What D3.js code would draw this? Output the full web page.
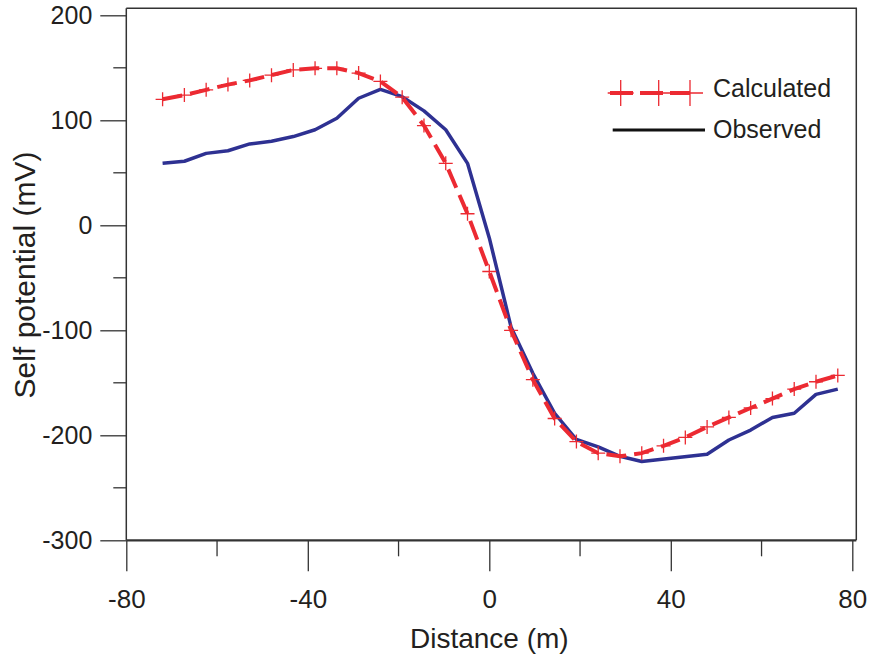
<!DOCTYPE html>
<html lang="en">
<head>
<meta charset="UTF-8">
<title>Self potential profile</title>
<script src="https://cdn.jsdelivr.net/npm/d3@7"></script>
<style>
  body { margin: 0; background: #fff; }
  text { font-family: "Liberation Sans", Arial, sans-serif; fill: #231f20; }
</style>
</head>
<body>
<script>

// distances (m)
var calcX = [-72, -67.2, -62.4, -57.6, -52.8, -48, -43.2, -38.4, -33.6, -28.8, -24, -19.2, -14.4, -9.6, -4.8, 0,
             4.8, 9.6, 14.4, 19.2, 24, 28.8, 33.6, 38.4, 43.2, 48, 52.8, 57.6, 62.4, 67.2, 72, 76.8];
var calcY = [120, 124, 129, 134, 138, 143, 148, 149.5, 149.5, 145, 137, 122, 95, 59, 11, -44,
             -100, -147, -184, -206, -217, -220, -217, -210, -202, -192, -183, -174, -165, -156, -149, -143];

var obsX = [-72, -67.2, -62.4, -57.6, -52.8, -48, -43.2, -38.4, -33.6, -28.8, -24, -19.2, -14.4, -9.6, -4.8, 0,
            4.8, 9.6, 14.4, 19.2, 24, 28.8, 33.6, 48, 52.8, 57.6, 62.4, 67.2, 72, 76.8];
var obsY = [59, 61, 68.5, 71, 77.5, 80, 84.5, 91, 102, 121, 129.5, 122.5, 109, 91, 59, -12,
            -97, -141, -179, -204, -211, -220, -225, -218, -204.5, -195, -183, -179, -161, -156];

var xTicks = [-80, -40, 0, 40, 80];
var xMinor = [-60, -20, 20, 60];
var yTicks = [200, 100, 0, -100, -200, -300];
var yMinor = [150, 50, -50, -150, -250];

var legendNames = ["Calculated", "Observed"];

var red = "#ec2a32", blue = "#2e3192", axisCol = "#333";

var W = 869, H = 658;
var svg = d3.select("body").append("svg").attr("width", W).attr("height", H);

var x = d3.scaleLinear().domain([-80, 80]).range([126.3, 852.3]);
var y = d3.scaleLinear().domain([-300, 200]).range([540.3, 15.3]);
var plain = function(d) { return String(d); };   // keep "-" hyphen like the original

// frame (top/right go a bit past the last ticks)
var fx0 = x(-80), fx1 = x(80) + 4, fy0 = y(200) - 7, fy1 = y(-300);
svg.append("path")
  .attr("d", "M" + fx0 + "," + fy0 + "H" + fx1 + "V" + fy1)
  .attr("fill", "none").attr("stroke", axisCol).attr("stroke-width", 1.5);

// axes
var ax = svg.append("g").attr("transform", "translate(0," + y(-300) + ")")
  .call(d3.axisBottom(x).tickValues(xTicks).tickFormat(plain).tickSize(31).tickPadding(18).tickSizeOuter(0));
ax.select(".domain").attr("stroke", axisCol).attr("stroke-width", 2.2)
  .attr("d", "M" + fx0 + ",0H" + fx1);
ax.selectAll(".tick line").attr("stroke", axisCol).attr("stroke-width", 1.3);
ax.selectAll(".tick text").attr("font-size", 26).attr("fill", "#231f20");
ax.selectAll(".minor").data(xMinor).enter().append("line")
  .attr("x1", x).attr("x2", x).attr("y1", 0).attr("y2", 16)
  .attr("stroke", axisCol).attr("stroke-width", 1.3);

var ay = svg.append("g").attr("transform", "translate(" + x(-80) + ",0)")
  .call(d3.axisLeft(y).tickValues(yTicks).tickFormat(plain).tickSize(26).tickPadding(8).tickSizeOuter(0));
ay.select(".domain").attr("stroke", axisCol).attr("stroke-width", 1.5)
  .attr("d", "M0," + fy0 + "V" + fy1);
ay.selectAll(".tick line").attr("stroke", axisCol).attr("stroke-width", 1.3);
ay.selectAll(".tick text").attr("font-size", 25).attr("fill", "#231f20");
ay.selectAll(".minor").data(yMinor).enter().append("line")
  .attr("x1", -13).attr("x2", 0).attr("y1", y).attr("y2", y)
  .attr("stroke", axisCol).attr("stroke-width", 1.3);

// axis titles
svg.append("text").attr("x", x(0)).attr("y", 648).attr("text-anchor", "middle")
  .attr("font-size", 28).text("Distance (m)");
svg.append("text").attr("transform", "translate(35,275) rotate(-90)").attr("text-anchor", "middle")
  .attr("font-size", 30).text("Self potential (mV)");

// observed line
var obs = obsX.map(function(d, i) { return [d, obsY[i]]; });
var calc = calcX.map(function(d, i) { return [d, calcY[i]]; });
var line = d3.line().x(function(d) { return x(d[0]); }).y(function(d) { return y(d[1]); });

svg.append("path").datum(obs).attr("d", line)
  .attr("fill", "none").attr("stroke", blue).attr("stroke-width", 3.5).attr("stroke-linejoin", "round");

svg.append("path").datum(calc).attr("d", line)
  .attr("fill", "none").attr("stroke", red).attr("stroke-width", 4).attr("stroke-dasharray", "20,8");

function cross(g, cx, cy, r) {
  g.append("path").attr("d", "M" + (cx - r) + "," + cy + "H" + (cx + r) + "M" + cx + "," + (cy - r) + "V" + (cy + r))
    .attr("stroke", red).attr("stroke-width", 1.3).attr("fill", "none");
}
var marks = svg.append("g");
calc.forEach(function(d) { cross(marks, x(d[0]), y(d[1]), 7); });

// legend
var lg = svg.append("g");
lg.append("line").attr("x1", 610).attr("x2", 690).attr("y1", 93).attr("y2", 93)
  .attr("stroke", red).attr("stroke-width", 4).attr("stroke-dasharray", "23,7");
[620.7, 658.7, 690].forEach(function(cx) { cross(lg, cx, 93, 13); });
lg.append("line").attr("x1", 612.7).attr("x2", 705).attr("y1", 130).attr("y2", 130)
  .attr("stroke", "#111").attr("stroke-width", 3);
lg.selectAll("text.lab").data(legendNames).enter().append("text").attr("class", "lab")
  .attr("x", 713).attr("y", function(d, i) { return 97 + i * 41; })
  .attr("font-size", 25).text(function(d) { return d; });

</script>
</body>
</html>
